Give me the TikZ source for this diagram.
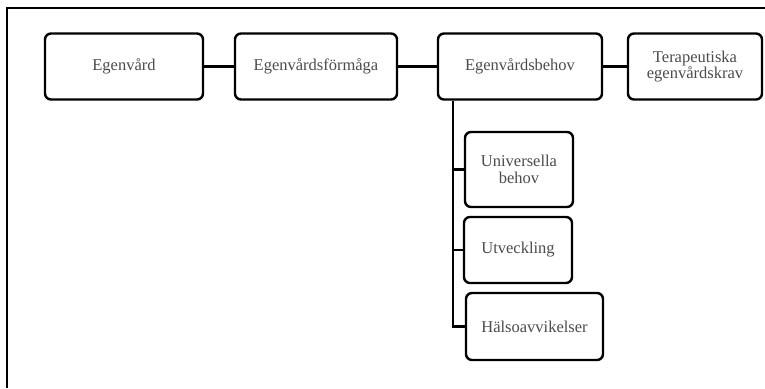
\documentclass[tikz,border=0pt]{standalone}
\usepackage{fontspec}
\setmainfont{Liberation Serif}
\begin{document}
\begin{tikzpicture}[x=1pt,y=-1pt,line width=2.4pt,
	box/.style={draw=black, rounded corners=6pt, fill=white, inner sep=0pt, align=center, text=black!70, font=\fontsize{16.5}{16.5}\selectfont}]
	\useasboundingbox (0,0) rectangle (765,388);
	\draw[line width=2pt] (7,388) -- (7,8) -- (765,8);
	\node (egen)    at (124, 66.5)	[box, minimum width=158pt, minimum height=66pt]	{Egenvård};
	\node (formaga) at (316, 66.5)	[box, minimum width=162pt, minimum height=66pt]	{Egenvårdsförmåga};
	\node (behov)   at (520, 66.5)	[box, minimum width=164pt, minimum height=66pt]	{Egenvårdsbehov};
	\node (krav)    at (695, 66.5)	[box, minimum width=134pt, minimum height=66pt]	{Terapeutiska\\egenvårdskrav};
	\node (univ)    at (519, 169.5)	[box, minimum width=108pt, minimum height=75pt]	{Universella\\behov};
	\node (utv)     at (518, 250)	[box, minimum width=108pt, minimum height=66pt]	{Utveckling};
	\node (halsa)   at (534.5, 326.5)	[box, minimum width=137pt, minimum height=67pt]	{Hälsoavvikelser};
	\draw (egen) -- (formaga);
	\draw (formaga) -- (behov);
	\draw (behov) -- (krav);
	\draw (behov.south west) ++(16,0) coordinate (trunk) |- (halsa.west);
	\draw (univ.west) -| (trunk);
	\draw (utv.west) -| (trunk);
\end{tikzpicture}
\end{document}
